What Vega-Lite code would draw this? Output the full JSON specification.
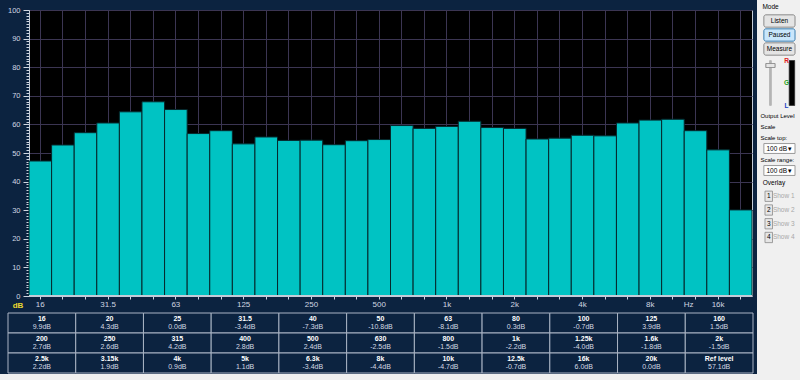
{
  "$schema": "https://vega.github.io/schema/vega-lite/v6.json",
  "background": "#0c2340",
  "padding": 0,
  "spacing": 0,
  "config": {"view": {"stroke": null}, "font": "Liberation Sans", "text": {"font": "Liberation Sans"}},
  "datasets": {
    "bands": [
      {"band": "16", "level": 47.2}, {"band": "20", "level": 52.8}, {"band": "25", "level": 57.1},
      {"band": "31.5", "level": 60.5}, {"band": "40", "level": 64.4}, {"band": "50", "level": 67.9},
      {"band": "63", "level": 65.2}, {"band": "80", "level": 56.8}, {"band": "100", "level": 57.8},
      {"band": "125", "level": 53.2}, {"band": "160", "level": 55.6}, {"band": "200", "level": 54.4},
      {"band": "250", "level": 54.5}, {"band": "315", "level": 52.9}, {"band": "400", "level": 54.3},
      {"band": "500", "level": 54.7}, {"band": "630", "level": 59.6}, {"band": "800", "level": 58.6},
      {"band": "1k", "level": 59.3}, {"band": "1.25k", "level": 61.1}, {"band": "1.6k", "level": 58.9},
      {"band": "2k", "level": 58.6}, {"band": "2.5k", "level": 54.9}, {"band": "3.15k", "level": 55.2},
      {"band": "4k", "level": 56.2}, {"band": "5k", "level": 56.0}, {"band": "6.3k", "level": 60.5},
      {"band": "8k", "level": 61.5}, {"band": "10k", "level": 61.8}, {"band": "12.5k", "level": 57.8},
      {"band": "16k", "level": 51.1}, {"band": "20k", "level": 30.1}
    ],
    "table": [
      {"row": 1, "col": 1, "name": "16", "dev": "9.9dB"}, {"row": 1, "col": 2, "name": "20", "dev": "4.3dB"},
      {"row": 1, "col": 3, "name": "25", "dev": "0.0dB"}, {"row": 1, "col": 4, "name": "31.5", "dev": "-3.4dB"},
      {"row": 1, "col": 5, "name": "40", "dev": "-7.3dB"}, {"row": 1, "col": 6, "name": "50", "dev": "-10.8dB"},
      {"row": 1, "col": 7, "name": "63", "dev": "-8.1dB"}, {"row": 1, "col": 8, "name": "80", "dev": "0.3dB"},
      {"row": 1, "col": 9, "name": "100", "dev": "-0.7dB"}, {"row": 1, "col": 10, "name": "125", "dev": "3.9dB"},
      {"row": 1, "col": 11, "name": "160", "dev": "1.5dB"},
      {"row": 2, "col": 1, "name": "200", "dev": "2.7dB"}, {"row": 2, "col": 2, "name": "250", "dev": "2.6dB"},
      {"row": 2, "col": 3, "name": "315", "dev": "4.2dB"}, {"row": 2, "col": 4, "name": "400", "dev": "2.8dB"},
      {"row": 2, "col": 5, "name": "500", "dev": "2.4dB"}, {"row": 2, "col": 6, "name": "630", "dev": "-2.5dB"},
      {"row": 2, "col": 7, "name": "800", "dev": "-1.5dB"}, {"row": 2, "col": 8, "name": "1k", "dev": "-2.2dB"},
      {"row": 2, "col": 9, "name": "1.25k", "dev": "-4.0dB"}, {"row": 2, "col": 10, "name": "1.6k", "dev": "-1.8dB"},
      {"row": 2, "col": 11, "name": "2k", "dev": "-1.5dB"},
      {"row": 3, "col": 1, "name": "2.5k", "dev": "2.2dB"}, {"row": 3, "col": 2, "name": "3.15k", "dev": "1.9dB"},
      {"row": 3, "col": 3, "name": "4k", "dev": "0.9dB"}, {"row": 3, "col": 4, "name": "5k", "dev": "1.1dB"},
      {"row": 3, "col": 5, "name": "6.3k", "dev": "-3.4dB"}, {"row": 3, "col": 6, "name": "8k", "dev": "-4.4dB"},
      {"row": 3, "col": 7, "name": "10k", "dev": "-4.7dB"}, {"row": 3, "col": 8, "name": "12.5k", "dev": "-0.7dB"},
      {"row": 3, "col": 9, "name": "16k", "dev": "6.0dB"}, {"row": 3, "col": 10, "name": "20k", "dev": "0.0dB"},
      {"row": 3, "col": 11, "name": "Ref level", "dev": "57.1dB"}
    ]
  },
  "hconcat": [
    {
      "spacing": 0,
      "vconcat": [
        {"width": 1, "height": 5, "data": {"values": []}, "mark": "point"},
        {
          "spacing": 0,
          "hconcat": [
            {"width": 6, "height": 1, "data": {"values": []}, "mark": "point"},
            {
              "width": 723, "height": 286,
              "view": {"fill": "#000000", "stroke": "#c4ccd8", "strokeWidth": 1},
              "data": {"name": "bands"},
              "layer": [
                {
                  "mark": {"type": "bar", "fill": "#00c3c3", "stroke": "#06282c", "strokeWidth": 1},
                  "encoding": {
                    "x": {
                      "field": "band", "type": "ordinal", "sort": null,
                      "scale": {"paddingInner": 0, "paddingOuter": 0},
                      "axis": {
                        "title": null,
                        "labelExpr": "indexof(['16','31.5','63','125','250','500','1k','2k','4k','8k','16k'], datum.value) >= 0 ? datum.value : (datum.value === '12.5k' ? 'Hz' : '')",
                        "labelAngle": 0, "labelFontSize": 8, "labelColor": "#d0d6e0", "labelPadding": 1,
                        "labelOverlap": false,
                        "labelOffset": {"condition": {"test": "datum.value === '12.5k'", "value": -7}, "value": 0},
                        "tickSize": 3, "tickColor": "#d0d6e0", "domainColor": "#c4ccd8",
                        "grid": true, "gridColor": "#3b3552"
                      }
                    },
                    "y": {
                      "field": "level", "type": "quantitative",
                      "scale": {"domain": [0, 100], "nice": false},
                      "axis": {
                        "tickCount": 100,
                        "labelExpr": "datum.value % 10 === 0 ? datum.label : ''",
                        "labelFontSize": 7.5, "labelColor": "#d0d6e0", "labelPadding": 3, "labelOverlap": false,
                        "tickColor": "#d0d6e0",
                        "tickSize": {"condition": {"test": "datum.value % 10 === 0", "value": 6}, "value": 3},
                        "grid": true, "gridColor": "#3b3552",
                        "gridOpacity": {"condition": {"test": "datum.value % 10 === 0", "value": 1}, "value": 0},
                        "domainColor": "#c4ccd8",
                        "title": "dB", "titleAngle": 0, "titleX": -11.5, "titleY": 295,
                        "titleAlign": "center", "titleBaseline": "middle",
                        "titleColor": "#e8d830", "titleFontSize": 8, "titleFontWeight": "bold"
                      }
                    }
                  }
                },
                {
                  "mark": {"type": "rule", "color": "#c4ccd8", "strokeWidth": 1},
                  "encoding": {"y": {"datum": 0}}
                }
              ]
            }
          ]
        },
        {"width": 1, "height": 2, "data": {"values": []}, "mark": "point"},
        {
          "spacing": 0,
          "hconcat": [
            {"width": 6.5, "height": 1, "data": {"values": []}, "mark": "point"},
            {
              "width": 745, "height": 60,
              "data": {"name": "table"},
              "encoding": {
                "x": {"field": "col", "type": "ordinal", "scale": {"paddingInner": 0, "paddingOuter": 0}, "axis": null},
                "y": {"field": "row", "type": "ordinal", "scale": {"paddingInner": 0, "paddingOuter": 0}, "axis": null}
              },
              "layer": [
                {"mark": {"type": "rect", "fill": "#0c2340", "stroke": "#aab4c4", "strokeWidth": 1}},
                {"mark": {"type": "text", "fontSize": 7, "fontWeight": "bold", "color": "#ffffff", "dy": -4},
                 "encoding": {"text": {"field": "name"}}},
                {"mark": {"type": "text", "fontSize": 7, "color": "#d4dae4", "dy": 3.5},
                 "encoding": {"text": {"field": "dev"}}}
              ]
            }
          ]
        },
        {"width": 757, "height": 8, "view": {"fill": "#f0f0f0", "stroke": null}, "data": {"values": []}, "mark": "point"}
      ]
    },
    {
      "spacing": 0,
      "vconcat": [
        {
          "width": 43, "height": 56, "view": {"fill": "#f0f0f0", "stroke": null},
          "data": {"values": [
            {"item": "Mode", "kind": "label"}, {"item": "Listen", "kind": "button"},
            {"item": "Paused", "kind": "active"}, {"item": "Measure", "kind": "button"}
          ]},
          "encoding": {
            "y": {"field": "item", "type": "nominal", "scale": {"type": "band", "domain": ["Mode", "Listen", "Paused", "Measure"], "paddingInner": 0.12, "paddingOuter": 0.06}, "axis": null},
            "x": {"datum": "c", "type": "nominal", "scale": {"type": "band", "paddingOuter": 0.19, "align": 0.58}, "axis": null}
          },
          "layer": [
            {"transform": [{"filter": "datum.kind !== 'label'"}],
             "mark": {"type": "rect", "cornerRadius": 2, "strokeWidth": 1},
             "encoding": {
               "fill": {"condition": {"test": "datum.kind === 'active'", "value": "#c9e6fb"}, "value": "#e4e4e4"},
               "stroke": {"condition": {"test": "datum.kind === 'active'", "value": "#3c7fb1"}, "value": "#8a8a8a"}
             }},
            {"transform": [{"filter": "datum.kind !== 'label'"}],
             "mark": {"type": "text", "fontSize": 6.5, "color": "#000000"},
             "encoding": {"text": {"field": "item"}}},
            {"transform": [{"filter": "datum.kind === 'label'"}],
             "mark": {"type": "text", "fontSize": 6.5, "align": "left", "dx": -17, "color": "#000000"},
             "encoding": {"text": {"field": "item"}}}
          ]
        },
        {
          "width": 43, "height": 54, "view": {"fill": "#f0f0f0", "stroke": null},
          "data": {"values": [{"ch": "R", "c": "#e02020"}, {"ch": "G", "c": "#22a022"}, {"ch": "L", "c": "#2040c0"}]},
          "layer": [
            {"mark": {"type": "rule", "color": "#b4b4b4", "strokeWidth": 2},
             "encoding": {
               "x": {"datum": "slider", "type": "nominal", "scale": {"type": "band", "domain": ["b0", "b1", "slider", "b3", "b4", "letters", "meter", "b7"], "paddingInner": 0, "paddingOuter": 0}, "axis": null},
               "y": {"datum": "R", "type": "nominal", "scale": {"type": "point", "domain": ["R", "G", "L"], "padding": 0.2}, "axis": null},
               "y2": {"datum": "L"}
             }},
            {"mark": {"type": "rect", "fill": "#000000", "stroke": "#606060", "strokeWidth": 0.5},
             "encoding": {
               "x": {"datum": "meter", "type": "nominal"},
               "y": {"datum": "R", "type": "nominal"},
               "y2": {"datum": "L"}
             }},
            {"mark": {"type": "tick", "orient": "horizontal", "size": 9, "thickness": 4, "fill": "#e6e6e6", "stroke": "#808080", "strokeWidth": 0.7, "yOffset": 5},
             "encoding": {
               "x": {"datum": "slider", "type": "nominal"},
               "y": {"datum": "R", "type": "nominal"}
             }},
            {"mark": {"type": "text", "fontSize": 6.5, "fontWeight": "bold"},
             "encoding": {
               "x": {"datum": "letters", "type": "nominal"},
               "y": {"field": "ch", "type": "nominal"},
               "text": {"field": "ch"},
               "color": {"field": "c", "type": "nominal", "scale": null}
             }}
          ]
        },
        {
          "width": 43, "height": 66, "view": {"fill": "#f0f0f0", "stroke": null},
          "data": {"values": [
            {"id": "r1", "t": "Output Level", "k": "label"},
            {"id": "r2", "t": "Scale", "k": "label"},
            {"id": "r3", "t": "Scale top:", "k": "label"},
            {"id": "r4", "t": "100 dB", "k": "dd"},
            {"id": "r5", "t": "Scale range:", "k": "label"},
            {"id": "r6", "t": "100 dB", "k": "dd"}
          ]},
          "encoding": {
            "y": {"field": "id", "type": "nominal", "scale": {"type": "band", "domain": ["r1", "r2", "r3", "r4", "r5", "r6"], "paddingInner": 0.1, "paddingOuter": 0.05}, "axis": null},
            "x": {"datum": "c", "type": "nominal", "scale": {"type": "band", "paddingOuter": 0.19, "align": 0.58}, "axis": null}
          },
          "layer": [
            {"transform": [{"filter": "datum.k === 'dd'"}],
             "mark": {"type": "rect", "fill": "#ffffff", "stroke": "#9a9a9a", "strokeWidth": 1}},
            {"transform": [{"filter": "datum.k === 'dd'"}],
             "mark": {"type": "text", "fontSize": 6.5, "align": "left", "dx": -13, "color": "#000000"},
             "encoding": {"text": {"field": "t"}}},
            {"transform": [{"filter": "datum.k === 'dd'"}],
             "mark": {"type": "text", "fontSize": 7, "dx": 11, "color": "#000000", "text": "▾"}},
            {"transform": [{"filter": "datum.k === 'label'"}],
             "mark": {"type": "text", "fontSize": 6, "align": "left", "dx": -19, "color": "#000000"},
             "encoding": {"text": {"field": "t"}}}
          ]
        },
        {
          "width": 43, "height": 68, "view": {"fill": "#f0f0f0", "stroke": null},
          "data": {"values": [
            {"id": "o0", "t": "Overlay", "k": "label"},
            {"id": "o1", "n": "1", "t": "Show 1", "k": "show"},
            {"id": "o2", "n": "2", "t": "Show 2", "k": "show"},
            {"id": "o3", "n": "3", "t": "Show 3", "k": "show"},
            {"id": "o4", "n": "4", "t": "Show 4", "k": "show"}
          ]},
          "encoding": {
            "y": {"field": "id", "type": "nominal", "scale": {"type": "band", "domain": ["o0", "o1", "o2", "o3", "o4"], "paddingInner": 0.25, "paddingOuter": 0.1}, "axis": null}
          },
          "layer": [
            {"transform": [{"filter": "datum.k === 'show'"}],
             "mark": {"type": "rect", "fill": "#e6e6e6", "stroke": "#8a8a8a", "strokeWidth": 0.8},
             "encoding": {"x": {"datum": "n", "type": "nominal", "scale": {"type": "band", "domain": ["n", "s1", "s2", "s3"], "paddingInner": 0, "paddingOuter": 0.867, "align": 0.615}, "axis": null}}},
            {"transform": [{"filter": "datum.k === 'show'"}],
             "mark": {"type": "text", "fontSize": 6.5, "color": "#000000"},
             "encoding": {"x": {"datum": "n", "type": "nominal"}, "text": {"field": "n"}}},
            {"transform": [{"filter": "datum.k === 'show'"}],
             "mark": {"type": "text", "fontSize": 6.5, "color": "#a8a8a8"},
             "encoding": {"x": {"datum": "s2", "type": "nominal"}, "text": {"field": "t"}}},
            {"transform": [{"filter": "datum.k === 'label'"}],
             "mark": {"type": "text", "fontSize": 6.5, "align": "left", "dx": -6, "color": "#000000"},
             "encoding": {"x": {"datum": "n", "type": "nominal"}, "text": {"field": "t"}}}
          ]
        },
        {"width": 43, "height": 136, "view": {"fill": "#f0f0f0", "stroke": null}, "data": {"values": []}, "mark": "point"}
      ]
    }
  ]
}
